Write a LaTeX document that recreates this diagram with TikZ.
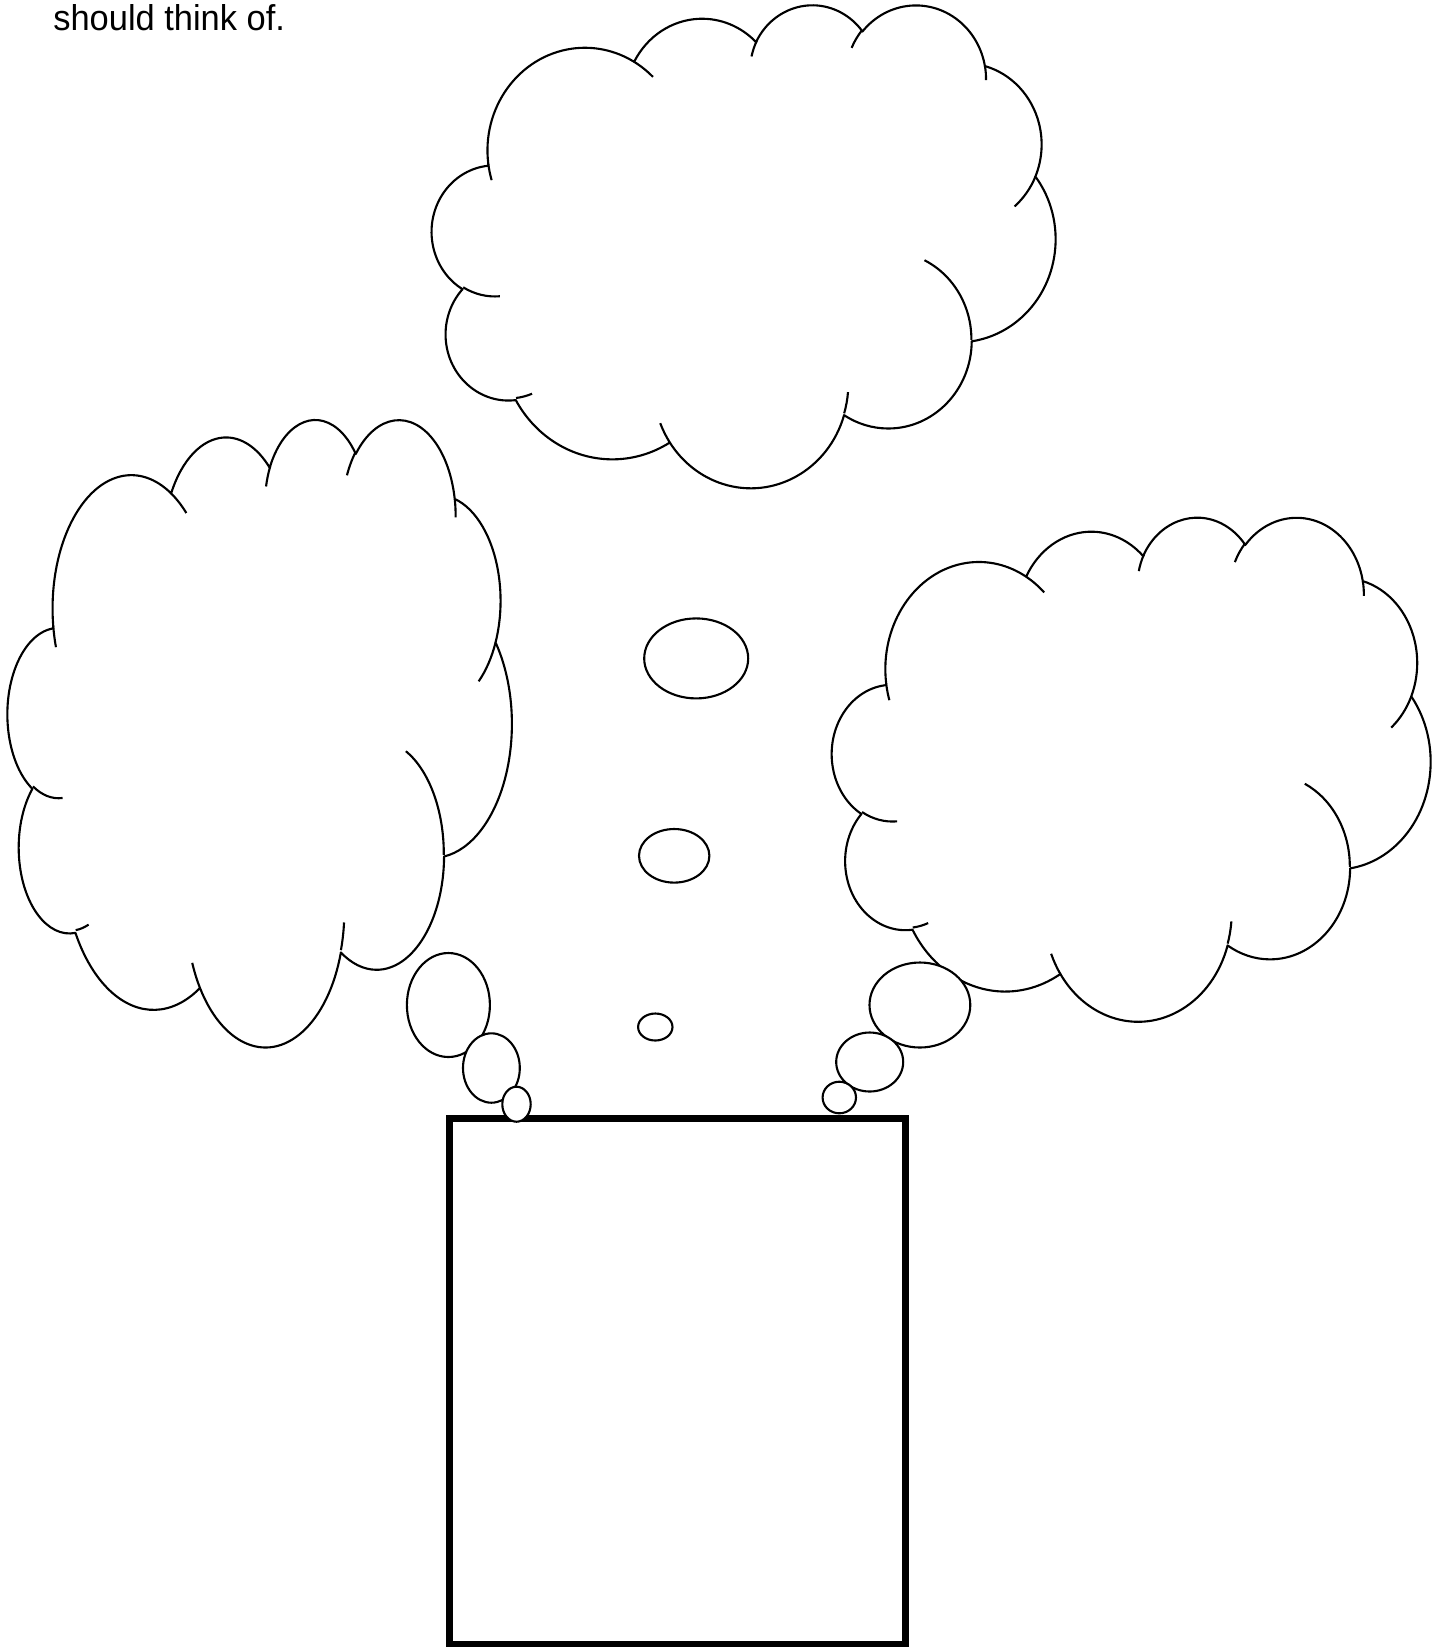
\documentclass[tikz,border=0pt]{standalone}
\usepackage{fontspec}
\setmainfont{Liberation Sans}
\usepackage{tikz}

\begin{document}
\begin{tikzpicture}[
    x=0.01cm,
    y=-0.01cm,
    cloudline/.style={
        line width=0.6pt,
        line join=round
    },
    bubble/.style={
        cloudline,
        draw=black,
        fill=white
    },
    answerbox/.style={
        line width=1.9pt
    },
    cloud/.pic={
        % outer edge of the cloud
        \draw[cloudline, fill=white] (39.00,143.70)
            arc[start angle=172.25, end angle=300.36, x radius=67.53, y radius=91.90]
            arc[start angle=-152.02, end angle=-45.44, x radius=53.33, y radius=72.67]
            arc[start angle=-153.48, end angle=-37.32, x radius=43.65, y radius=59.45]
            arc[start angle=-139.70, end angle=-10.21, x radius=48.57, y radius=65.95]
            arc[start angle=-74.77, end angle=23.21, x radius=53.33, y radius=72.73]
            arc[start angle=-37.53, end angle=81.86, x radius=67.75, y radius=92.20]
            arc[start angle=0.46, end angle=121.98, x radius=57.85, y radius=78.67]
            arc[start angle=16.84, end angle=146.27, x radius=67.52, y radius=92.15]
            arc[start angle=58.98, end angle=150.20, x radius=77.20, y radius=105.43]
            arc[start angle=83.31, end angle=223.13, x radius=43.60, y radius=59.18]
            arc[start angle=120.36, end angle=264.11, x radius=43.45, y radius=59.45]
            -- cycle;
        % inner tails of the lobes
        \draw[cloudline]
            (46.93,261.77) arc[start angle=85.55, end angle=120.36, x radius=43.45, y radius=59.45]
            (69.28,348.99) arc[start angle=68.24, end angle=83.31, x radius=43.60, y radius=59.18]
            (164.78,392.66) arc[start angle=146.27, end angle=158.47, x radius=67.52, y radius=92.15]
            (288.27,347.51) arc[start angle=4.74, end angle=16.84, x radius=67.52, y radius=92.15]
            (341.29,229.54) arc[start angle=-64.03, end angle=0.46, x radius=57.85, y radius=78.67]
            (418.19,154.64) arc[start angle=23.21, end angle=49.65, x radius=53.33, y radius=72.73]
            (383.19,55.80) arc[start angle=-10.21, end angle=0.82, x radius=48.57, y radius=65.95]
            (290.78,39.52) arc[start angle=-156.28, end angle=-139.70, x radius=48.57, y radius=65.95]
            (221.41,47.20) arc[start angle=-167.73, end angle=-153.48, x radius=43.65, y radius=59.45]
            (140.06,52.02) arc[start angle=-59.64, end angle=-45.74, x radius=67.53, y radius=91.90]
            (41.27,157.89) arc[start angle=163.19, end angle=172.25, x radius=67.53, y radius=91.90];
    }
]

\useasboundingbox (0,0) rectangle (1446,1647);


\node[anchor=base west, inner sep=0, xscale=0.96, font=\fontsize{10.2pt}{12pt}\selectfont]
    (prompt) at (52.7,30.7) {should think of.};


% top cloud
\begin{scope}[shift={(432.1,3.7)}, x=0.014421cm, y=-0.011175cm]
    \pic {cloud};
\end{scope}

% left cloud
\begin{scope}[shift={(7.8,417.9)}, x=0.011652cm, y=-0.014507cm]
    \pic {cloud};
\end{scope}

% right cloud
\begin{scope}[shift={(832.2,516.0)}, x=0.013836cm, y=-0.011661cm]
    \pic {cloud};
\end{scope}


\draw[answerbox] (449.7,1118.3) rectangle (905.5,1644.5);


% bubbles in the middle
\draw[bubble] (696.2,658.4) ellipse [x radius=52, y radius=40];
\draw[bubble] (674.2,855.8) ellipse [x radius=35.2, y radius=26.8];
\draw[bubble] (655.3,1027) ellipse [x radius=17.2, y radius=13.5];

% bubbles on the left
\draw[bubble] (448.4,1005) ellipse [x radius=41.5, y radius=52];
\draw[bubble] (491.4,1068) ellipse [x radius=28.4, y radius=34.7];
\draw[bubble] (516.5,1104.2) ellipse [x radius=14.2, y radius=17.5];

% bubbles on the right
\draw[bubble] (919.9,1005) ellipse [x radius=50.4, y radius=42.5];
\draw[bubble] (869.7,1062) ellipse [x radius=33.5, y radius=29.5];
\draw[bubble] (839.3,1097.5) ellipse [x radius=16.7, y radius=15.8];

\end{tikzpicture}
\end{document}
